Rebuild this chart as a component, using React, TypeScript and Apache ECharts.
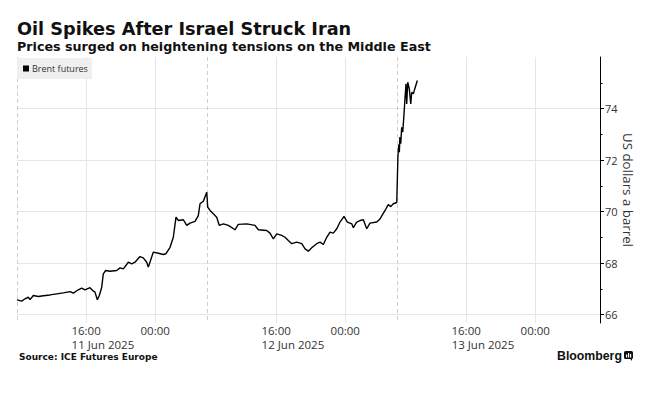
import { useEffect, useRef } from "react";
import * as echarts from "echarts";

// Trading hours since the 11 Jun 2025 session open (08:00 SGT); each session = 22 trading hours
const hours = [
  0, 0.54, 0.93, 1.31, 1.51, 1.89, 2.47, 3.05, 3.82, 4.6, 5.36, 6.14, 6.52, 7.1, 7.49, 7.87,
  8.45, 8.77, 9.03, 9.3, 9.53, 9.81, 9.99, 10.27, 10.77, 11.54, 11.93, 12.31, 12.89, 13.28,
  13.66, 14.24, 14.62, 15.02, 15.2, 15.48, 15.78, 16.36, 16.94, 17.25, 17.72, 18.1, 18.41,
  18.68, 19.26, 19.65, 20.03, 20.61, 20.99, 21.19, 21.57, 21.97, 22.08, 22.35, 22.73, 23.12,
  23.42, 23.89, 24.47, 25.24, 25.62, 26.6, 27.56, 27.94, 28.91, 29.29, 29.68, 30.07, 30.65,
  31.03, 31.41, 31.81, 32.39, 32.97, 33.35, 33.73, 34.12, 34.7, 35.08, 35.47, 35.86, 36.24,
  36.62, 37.02, 37.4, 37.86, 38.25, 38.76, 38.94, 39.33, 39.72, 40.1, 40.49, 40.87, 41.65,
  42.03, 42.61, 42.99, 43.27, 43.57, 43.97, 44.1, 44.2, 44.27, 44.33, 44.43, 44.54, 44.66,
  44.81, 44.93, 45.04, 45.12, 45.24, 45.42, 45.59, 45.7, 45.89, 46.05, 46.35,
];
const brentPrices = [
  66.57, 66.52, 66.61, 66.67, 66.58, 66.74, 66.7, 66.73, 66.76, 66.8, 66.84, 66.89, 66.83, 66.96,
  67.02, 66.96, 67.04, 66.93, 66.87, 66.57, 66.74, 67.06, 67.58, 67.71, 67.68, 67.71, 67.81,
  67.77, 68.03, 67.97, 68.03, 68.25, 68.2, 68.03, 67.84, 68.12, 68.42, 68.38, 68.33, 68.36,
  68.61, 69.0, 69.78, 69.65, 69.68, 69.46, 69.55, 69.62, 69.84, 70.3, 70.4, 70.75, 70.17, 70.04,
  69.91, 69.78, 69.46, 69.52, 69.46, 69.29, 69.5, 69.52, 69.46, 69.29, 69.26, 69.16, 68.94,
  69.13, 69.07, 69.0, 68.87, 68.75, 68.81, 68.75, 68.55, 68.46, 68.59, 68.75, 68.81, 68.72, 69.0,
  69.2, 69.16, 69.33, 69.59, 69.81, 69.59, 69.52, 69.37, 69.59, 69.65, 69.68, 69.33, 69.55,
  69.59, 69.71, 70.04, 70.27, 70.19, 70.3, 70.35, 72.11, 72.6, 72.3, 72.89, 72.63, 73.27, 73.08,
  73.79, 74.44, 74.96, 74.18, 75.02, 74.76, 74.18, 74.63, 74.57, 74.76, 75.09,
];

const timeTicks = [8, 16, 30, 38, 52, 60];
const timeTickLabels = ["16:00", "00:00", "16:00", "00:00", "16:00", "00:00"];
const sessionStarts = [0, 22, 44];
const dateAnchors = [8, 30, 52];
const dateLabels = ["11 Jun 2025", "12 Jun 2025", "13 Jun 2025"];
const majorPriceTicks = [66, 68, 70, 72, 74];
const minorPriceTicks = [67, 69, 71, 73, 75];

const FONT = "'Open Sans', sans-serif";
const HEAVY = "'DejaVu Sans', sans-serif";
const BOLD = "'Liberation Sans', Arial, sans-serif";

export default function App() {
  const ref = useRef<HTMLDivElement>(null);
  useEffect(() => {
    if (!ref.current) return;
    const chart = echarts.init(ref.current, undefined, { renderer: "svg" });
    const data = hours.map((h, i) => [h, brentPrices[i]]);
    const xMin = 0;
    const xMax = 67.5;
    const yMin = 65.67;
    const yMax = 76;
    const gridBox = { left: 17, right: 57, top: 57, bottom: 73, containLabel: false };
    chart.setOption({
      animation: false,
      backgroundColor: "#ffffff",
      grid: [gridBox, { ...gridBox }],
      legend: {
        left: 17,
        top: 58,
        data: ["Brent futures"],
        icon: "rect",
        itemWidth: 6,
        itemHeight: 6,
        backgroundColor: "#efefef",
        padding: [6, 4, 6, 6],
        textStyle: { fontFamily: FONT, fontSize: 9, color: "#333", padding: [0, 0, 0, -2] },
      },
      xAxis: [
        {
          type: "value",
          gridIndex: 0,
          min: xMin,
          max: xMax,
          axisLine: { show: false, onZero: false },
          axisTick: { show: false, customValues: timeTicks },
          axisLabel: {
            customValues: timeTicks,
            margin: 1,
            fontFamily: FONT,
            fontSize: 11.5,
            lineHeight: 12,
            color: "#333",
            formatter: (v: number) => {
              const i = timeTicks.indexOf(v);
              return i >= 0 ? timeTickLabels[i] : "";
            },
          },
          splitLine: { show: true, lineStyle: { color: "#e6e6e6", width: 1 } },
        },
        {
          type: "value",
          gridIndex: 0,
          min: xMin,
          max: xMax,
          position: "top",
          axisLine: { show: false, onZero: false },
          axisTick: { show: false, customValues: sessionStarts },
          axisLabel: { show: false, customValues: sessionStarts },
          splitLine: { show: true, lineStyle: { color: "#cfcfcf", width: 1, type: [4, 3] } },
        },
        {
          type: "value",
          gridIndex: 1,
          min: xMin,
          max: xMax,
          show: false,
          axisLine: { onZero: false },
        },
      ],
      yAxis: [
        {
          type: "value",
          gridIndex: 0,
          position: "right",
          min: yMin,
          max: yMax,
          axisLine: { show: true, onZero: false, lineStyle: { color: "#000", width: 1 } },
          axisTick: { show: true, customValues: majorPriceTicks, length: 4, lineStyle: { color: "#000" } },
          axisLabel: {
            customValues: majorPriceTicks,
            margin: 5,
            fontFamily: FONT,
            fontSize: 11,
            color: "#333",
          },
          splitLine: { show: true, lineStyle: { color: "#e6e6e6", width: 1 } },
          name: "US dollars a barrel",
          nameLocation: "middle",
          nameRotate: -90,
          nameGap: 21,
          nameMoveOverlap: false,
          nameTextStyle: { fontFamily: FONT, fontSize: 13.3, color: "#333" },
        },
        {
          type: "value",
          gridIndex: 1,
          position: "right",
          min: yMin,
          max: yMax,
          axisLine: { show: false, onZero: false },
          axisTick: { show: true, customValues: minorPriceTicks, length: 2.5, lineStyle: { color: "#000" } },
          axisLabel: { show: false, customValues: minorPriceTicks },
          splitLine: { show: false },
        },
      ],
      series: [
        {
          name: "Brent futures",
          type: "line",
          xAxisIndex: 0,
          yAxisIndex: 0,
          data,
          showSymbol: false,
          symbol: "none",
          color: "#000",
          lineStyle: { color: "#000", width: 1.4 },
        },
      ],
      graphic: [
        {
          id: "title",
          type: "text",
          x: 17,
          y: 29,
          style: {
            text: "Oil Spikes After Israel Struck Iran",
            font: `bold 17.7px ${HEAVY}`,
            fill: "#111",
            textVerticalAlign: "middle",
          },
        },
        {
          id: "subtitle",
          type: "text",
          x: 17,
          y: 46.6,
          style: {
            text: "Prices surged on heightening tensions on the Middle East",
            font: `bold 12.7px ${HEAVY}`,
            fill: "#111",
            textVerticalAlign: "middle",
          },
        },
        {
          id: "source",
          type: "text",
          x: 19,
          y: 357,
          style: {
            text: "Source: ICE Futures Europe",
            font: `bold 9px ${HEAVY}`,
            fill: "#111",
            textVerticalAlign: "middle",
          },
        },
        {
          id: "bbg",
          type: "text",
          x: 557,
          y: 356,
          style: {
            text: "Bloomberg",
            font: `bold 12.3px ${BOLD}`,
            fill: "#111",
            textVerticalAlign: "middle",
          },
        },
        {
          id: "logo",
          type: "group",
          x: 624,
          y: 351,
          children: [
            { type: "rect", shape: { x: 0, y: 0, width: 9, height: 8, r: 1.5 }, style: { fill: "#111" } },
            { type: "polygon", shape: { points: [[5.5, 7], [8, 7], [8, 10]] }, style: { fill: "#111" } },
            { type: "rect", shape: { x: 2, y: 3.5, width: 1.2, height: 3 }, style: { fill: "#fff" } },
            { type: "rect", shape: { x: 4, y: 2, width: 1.2, height: 4.5 }, style: { fill: "#fff" } },
            { type: "rect", shape: { x: 6, y: 3, width: 1.2, height: 3.5 }, style: { fill: "#fff" } },
          ],
        },
      ],
    });

    const dateGraphics = dateAnchors.map((v, i) => {
      const px = chart.convertToPixel({ xAxisIndex: 0 }, v) as number;
      return {
        id: "date" + i,
        type: "text",
        x: px - 14.5,
        y: 344,
        style: {
          text: dateLabels[i],
          font: `11.5px ${FONT}`,
          fill: "#333",
          textAlign: "left",
          textVerticalAlign: "middle",
        },
      };
    });
    chart.setOption({ graphic: dateGraphics });

    return () => chart.dispose();
  }, []);
  return (
    <div
      ref={ref}
      style={{ position: "fixed", left: 0, top: 0, width: 657, height: 396, background: "#fff" }}
    />
  );
}
